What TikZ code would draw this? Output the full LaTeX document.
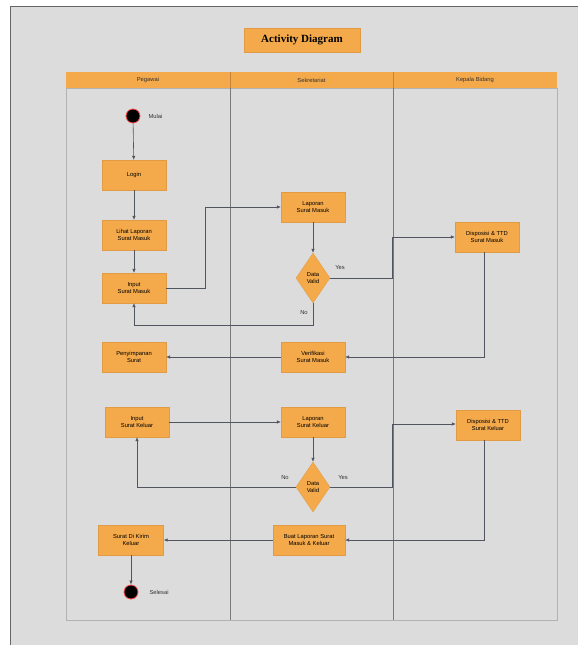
\documentclass[tikz,border=0pt]{standalone}
\usepackage{fontspec}
\setmainfont{Liberation Sans}
\newfontfamily\titlefont{Liberation Serif}
\usetikzlibrary{shapes.geometric,arrows.meta}
\definecolor{bg}{HTML}{DCDCDC}
\definecolor{org}{HTML}{F4A94A}
\definecolor{ln}{HTML}{505560}
\definecolor{lane}{HTML}{7A7A7A}
\tikzset{
  act/.style={draw=org!92!black, line width=0.3pt, fill=org, minimum width=64pt, minimum height=30pt, align=center, font=\fontsize{5.8}{6.8}\selectfont, inner sep=1pt},
  dec/.style={draw=org!92!black, line width=0.3pt, fill=org, diamond, minimum width=34pt, minimum height=50pt, inner sep=0pt, align=center, font=\fontsize{5.8}{6.8}\selectfont},
  flow/.style={draw=ln, line width=0.6pt, -{Latex[length=4pt,width=3.5pt]}},
  lbl/.style={font=\fontsize{5.8}{6.8}\selectfont, text=black!80},
  term/.style={circle, fill=black, draw=red!70, line width=0.8pt, minimum size=14pt, inner sep=0pt},
}
\begin{document}
\begin{tikzpicture}[x=1pt,y=-1pt]
\useasboundingbox (0,0) rectangle (578,645);
\fill[white] (0,0) rectangle (578,645);
\fill[bg] (10,6) rectangle (578,645);
\draw[black!60, line width=0.8pt] (10,645) -- (10,6) -- (578,6);
% title
\node[fill=org, draw=org!92!black, line width=0.3pt, minimum width=116pt, minimum height=24pt, font=\titlefont\bfseries\fontsize{11}{13}\selectfont] (title) at (302,40) {Activity Diagram};
% swimlanes
\draw[black!30, line width=0.5pt] (66,88) rectangle (557,620);
\draw[lane, line width=0.5pt] (230,72) -- (230,620);
\draw[lane, line width=0.5pt] (393,72) -- (393,620);
\fill[org] (66,72) rectangle (557,88);
\draw[org!80!black, line width=0.3pt] (230,72) -- (230,88) (393,72) -- (393,88);
\node[lbl] (h1) at (148,80) {Pegawai};
\node[lbl] (h2) at (311.5,80) {Sekretariat};
\node[lbl] (h3) at (475,80) {Kepala Bidang};
% nodes
\node[term] (start) at (133,116) {};
\node[lbl, anchor=west] (mulai) at (145,116) {Mulai};
\node[act] (login) at (134,175) {Login};
\node[act] (lihat) at (134,235) {Lihat Laporan\\Surat Masuk};
\node[act] (inm) at (134,288) {Input\\Surat Masuk};
\node[act] (lapm) at (313,207) {Laporan\\Surat Masuk};
\node[dec] (d1) at (313,278) {Data\\Valid};
\node[act] (dispm) at (487,237) {Disposisi \& TTD\\Surat Masuk};
\node[act] (verif) at (313,357) {Verifikasi\\Surat Masuk};
\node[act] (simpan) at (134,357) {Penyimpanan\\Surat};
\node[act] (ink) at (137,422) {Input\\Surat Keluar};
\node[act] (lapk) at (313,422) {Laporan\\Surat Keluar};
\node[dec] (d2) at (313,487) {Data\\Valid};
\node[act] (dispk) at (488,425) {Disposisi \& TTD\\Surat Keluar};
\node[act, minimum width=72pt] (buat) at (309,540) {Buat Laporan Surat\\Masuk \& Keluar};
\node[act, minimum width=65pt] (kirim) at (131,540) {Surat Di Kirim\\Keluar};
\node[term] (end) at (131,592) {};
\node[lbl, anchor=west] (selesai) at (146,592) {Selesai};
% coordinates
\coordinate (c1) at (205,288);
\coordinate (c2) at (205,207);
\coordinate (c3) at (392,278);
\coordinate (c4) at (392,237);
\coordinate (c5) at (313,325);
\coordinate (c6) at (134,325);
\coordinate (c7) at (484,357);
\coordinate (c8) at (137,487);
\coordinate (c9) at (392,487);
\coordinate (c10) at (392,424);
\coordinate (c11) at (484,540);
% flows
\draw[flow] (start) -- (login);
\draw[flow] (login) -- (lihat);
\draw[flow] (lihat) -- (inm);
\draw[flow] (inm.east) -- (c1) -- (c2) -- (lapm.west);
\draw[flow] (lapm) -- (d1);
\draw[flow] (d1.east) -- (c3) -- (c4) -- (dispm.west);
\draw[flow] (d1.south) -- (c5) -- (c6) -- (inm.south);
\draw[flow] (dispm.south -| c7) -- (c7) -- (verif.east);
\draw[flow] (verif) -- (simpan);
\draw[flow] (ink) -- (lapk);
\draw[flow] (lapk) -- (d2);
\draw[flow] (d2.west) -- (c8) -- (ink.south);
\draw[flow] (d2.east) -- (c9) -- (c10) -- (dispk.west |- c10);
\draw[flow] (dispk.south -| c11) -- (c11) -- (buat.east);
\draw[flow] (buat) -- (kirim);
\draw[flow] (kirim) -- (end);
% labels
\node[lbl] (y1) at (340,268) {Yes};
\node[lbl] (n1) at (304,313) {No};
\node[lbl] (n2) at (285,478) {No};
\node[lbl] (y2) at (343,478) {Yes};
\end{tikzpicture}
\end{document}
